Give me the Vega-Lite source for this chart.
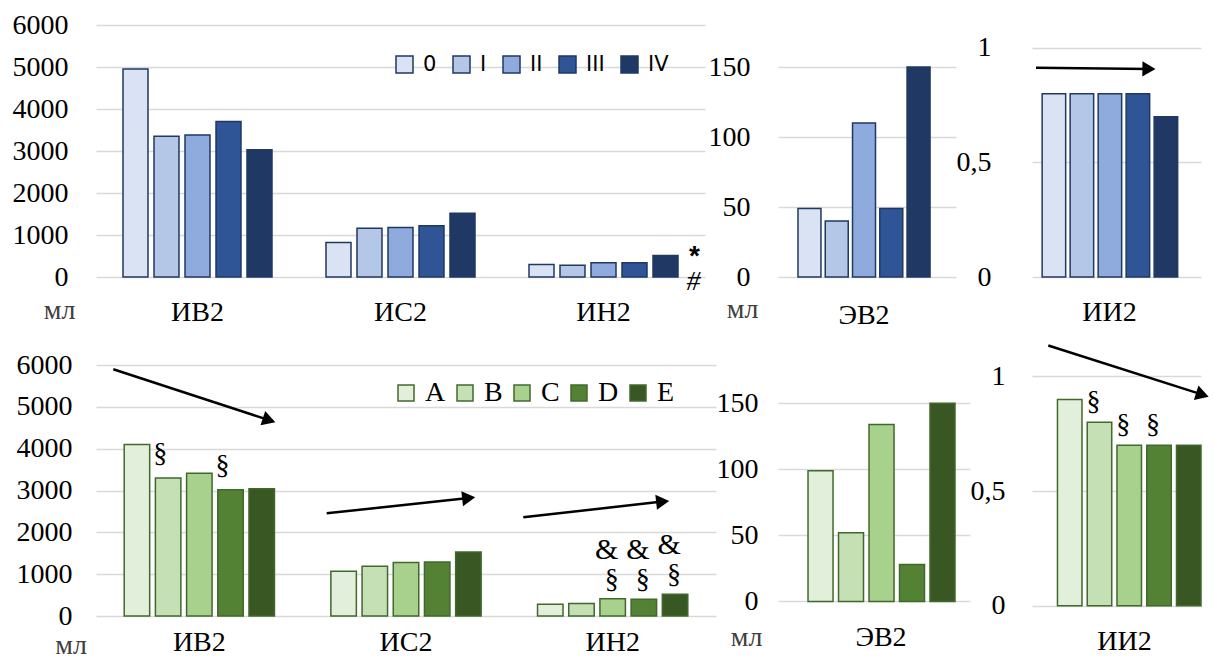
{
  "$schema": "https://vega.github.io/schema/vega-lite/v6.json",
  "background": "white",
  "padding": {"left": 12, "top": 11, "right": 0, "bottom": 0},
  "datasets": {
    "blue": [
      {"group": "ИВ2", "series": "0", "value": 4950},
      {"group": "ИВ2", "series": "I", "value": 3350},
      {"group": "ИВ2", "series": "II", "value": 3380},
      {"group": "ИВ2", "series": "III", "value": 3700},
      {"group": "ИВ2", "series": "IV", "value": 3030},
      {"group": "ИС2", "series": "0", "value": 820},
      {"group": "ИС2", "series": "I", "value": 1160},
      {"group": "ИС2", "series": "II", "value": 1180},
      {"group": "ИС2", "series": "III", "value": 1220},
      {"group": "ИС2", "series": "IV", "value": 1520},
      {"group": "ИН2", "series": "0", "value": 300},
      {"group": "ИН2", "series": "I", "value": 280},
      {"group": "ИН2", "series": "II", "value": 340},
      {"group": "ИН2", "series": "III", "value": 340},
      {"group": "ИН2", "series": "IV", "value": 510},
      {"group": "ЭВ2", "series": "0", "value": 49},
      {"group": "ЭВ2", "series": "I", "value": 40},
      {"group": "ЭВ2", "series": "II", "value": 110},
      {"group": "ЭВ2", "series": "III", "value": 49},
      {"group": "ЭВ2", "series": "IV", "value": 150},
      {"group": "ИИ2", "series": "0", "value": 0.8},
      {"group": "ИИ2", "series": "I", "value": 0.8},
      {"group": "ИИ2", "series": "II", "value": 0.8},
      {"group": "ИИ2", "series": "III", "value": 0.8},
      {"group": "ИИ2", "series": "IV", "value": 0.7}
    ],
    "green": [
      {"group": "ИВ2", "series": "A", "value": 4100},
      {"group": "ИВ2", "series": "B", "value": 3300},
      {"group": "ИВ2", "series": "C", "value": 3410},
      {"group": "ИВ2", "series": "D", "value": 3020},
      {"group": "ИВ2", "series": "E", "value": 3040},
      {"group": "ИС2", "series": "A", "value": 1070},
      {"group": "ИС2", "series": "B", "value": 1190},
      {"group": "ИС2", "series": "C", "value": 1280},
      {"group": "ИС2", "series": "D", "value": 1290},
      {"group": "ИС2", "series": "E", "value": 1530},
      {"group": "ИН2", "series": "A", "value": 280},
      {"group": "ИН2", "series": "B", "value": 300},
      {"group": "ИН2", "series": "C", "value": 410},
      {"group": "ИН2", "series": "D", "value": 400},
      {"group": "ИН2", "series": "E", "value": 520},
      {"group": "ЭВ2", "series": "A", "value": 99},
      {"group": "ЭВ2", "series": "B", "value": 52},
      {"group": "ЭВ2", "series": "C", "value": 134},
      {"group": "ЭВ2", "series": "D", "value": 28},
      {"group": "ЭВ2", "series": "E", "value": 150},
      {"group": "ИИ2", "series": "A", "value": 0.9},
      {"group": "ИИ2", "series": "B", "value": 0.8},
      {"group": "ИИ2", "series": "C", "value": 0.7},
      {"group": "ИИ2", "series": "D", "value": 0.7},
      {"group": "ИИ2", "series": "E", "value": 0.7}
    ],
    "notes": [
      {"row": "upper", "group": "ИН2", "series": "IV", "value": 510, "sym": "*"},
      {"row": "upper", "group": "ИН2", "series": "IV", "value": 510, "sym": "#"},
      {"row": "lower", "group": "ИВ2", "series": "B", "value": 3300, "sym": "§"},
      {"row": "lower", "group": "ИВ2", "series": "D", "value": 3020, "sym": "§"},
      {"row": "lower", "group": "ИН2", "series": "C", "value": 410, "sym": "§"},
      {"row": "lower", "group": "ИН2", "series": "D", "value": 400, "sym": "§"},
      {"row": "lower", "group": "ИН2", "series": "E", "value": 520, "sym": "§"},
      {"row": "lower", "group": "ИН2", "series": "C", "value": 410, "sym": "&"},
      {"row": "lower", "group": "ИН2", "series": "D", "value": 400, "sym": "&"},
      {"row": "lower", "group": "ИН2", "series": "E", "value": 520, "sym": "&"},
      {"row": "lower", "group": "ИИ2", "series": "B", "value": 0.8, "sym": "§"},
      {"row": "lower", "group": "ИИ2", "series": "C", "value": 0.7, "sym": "§"},
      {"row": "lower", "group": "ИИ2", "series": "D", "value": 0.7, "sym": "§"}
    ],
    "arrows": [
      {"panel": "upper-ИИ2", "id": "a5", "pos": 0.0237, "value": 0.9136, "pos2": 0.692, "value2": 0.908},
      {"panel": "lower-main", "id": "a1", "pos": 0.0837, "value": 5898, "pos2": 0.8376, "value2": 4681},
      {"panel": "lower-main", "id": "a2", "pos": 1.1163, "value": 2455, "pos2": 1.8034, "value2": 2819},
      {"panel": "lower-main", "id": "a3", "pos": 2.0676, "value": 2360, "pos2": 2.742, "value2": 2735},
      {"panel": "lower-ИИ2", "id": "a4", "pos": 0.0964, "value": 1.1353, "pos2": 1.0083, "value2": 0.9206}
    ]
  },
  "concat": [
    {
      "width": 609,
      "height": 252,
      "layer": [
        {
          "data": {"name": "blue"},
          "transform": [{"filter": {"field": "group", "oneOf": ["ИВ2", "ИС2", "ИН2"]}}],
          "mark": {"type": "bar", "stroke": "#203864", "strokeWidth": 1.5},
          "encoding": {
            "x": {"field": "group", "type": "nominal", "scale": {"domain": ["ИВ2", "ИС2", "ИН2"], "paddingInner": 0, "paddingOuter": 0}, "axis": {"title": null, "labelAngle": 0, "labelPadding": 21}},
            "xOffset": {"field": "series", "type": "nominal", "scale": {"domain": ["0", "I", "II", "III", "IV"], "paddingInner": 0.194, "paddingOuter": 0.871}},
            "y": {"field": "value", "type": "quantitative", "stack": null, "scale": {"domain": [0, 6000], "nice": false, "zero": false},
              "axis": {"title": "мл", "titleAngle": 0, "titleX": -37, "titleY": 285, "titleAlign": "center", "titleBaseline": "middle", "values": [0, 1000, 2000, 3000, 4000, 5000, 6000], "format": "d", "labelPadding": 28}},
            "color": {"field": "series", "type": "nominal",
              "scale": {"domain": ["0", "I", "II", "III", "IV"], "range": ["#dae3f3", "#b4c7e7", "#8faadc", "#2f5597", "#203864"]},
              "legend": {"orient": "none", "legendX": 298, "legendY": 29, "direction": "horizontal", "columns": 5, "title": null, "symbolType": "square", "symbolSize": 289, "symbolStrokeColor": "#203864", "symbolStrokeWidth": 1.5, "symbolOpacity": 1, "labelFont": "DejaVu Sans", "labelFontSize": 21, "labelColor": "#000000", "labelOffset": 8, "columnPadding": 13, "padding": 0, "labelLimit": 0}}
          }
        },
        {
          "data": {"name": "notes"},
          "transform": [{"filter": {"and": [{"field": "row", "equal": "upper"}, {"field": "sym", "equal": "*"}]}}],
          "mark": {"type": "text", "font": "Liberation Sans", "fontWeight": "bold", "fontSize": 28, "dx": 29, "dy": 1, "baseline": "middle", "align": "center", "color": "#000000"},
          "encoding": {
            "x": {"field": "group", "type": "nominal", "scale": {"domain": ["ИВ2", "ИС2", "ИН2"]}},
            "xOffset": {"field": "series", "type": "nominal", "scale": {"domain": ["0", "I", "II", "III", "IV"]}},
            "y": {"field": "value", "type": "quantitative", "scale": {"domain": [0, 6000], "nice": false, "zero": false}},
            "text": {"field": "sym"}
          }
        },
        {
          "data": {"name": "notes"},
          "transform": [{"filter": {"and": [{"field": "row", "equal": "upper"}, {"field": "sym", "equal": "#"}]}}],
          "mark": {"type": "text", "font": "Liberation Serif", "fontStyle": "italic", "fontSize": 28, "dx": 28, "dy": 26, "baseline": "middle", "align": "center", "color": "#000000"},
          "encoding": {
            "x": {"field": "group", "type": "nominal", "scale": {"domain": ["ИВ2", "ИС2", "ИН2"]}},
            "xOffset": {"field": "series", "type": "nominal", "scale": {"domain": ["0", "I", "II", "III", "IV"]}},
            "y": {"field": "value", "type": "quantitative", "scale": {"domain": [0, 6000], "nice": false, "zero": false}},
            "text": {"field": "sym"}
          }
        }
      ]
    },
    {
      "width": 178,
      "height": 252,
      "data": {"name": "blue"},
      "transform": [{"filter": {"field": "group", "equal": "ЭВ2"}}],
      "mark": {"type": "bar", "stroke": "#203864", "strokeWidth": 1.5},
      "encoding": {
        "x": {"field": "group", "type": "nominal", "scale": {"domain": ["ЭВ2"], "paddingInner": 0, "paddingOuter": 0}, "axis": {"title": null, "labelAngle": 0, "labelPadding": 24, "labelOffset": -3}},
        "xOffset": {"field": "series", "type": "nominal", "scale": {"domain": ["0", "I", "II", "III", "IV"], "paddingInner": 0.157, "paddingOuter": 0.8425, "align": 0.435}},
        "y": {"field": "value", "type": "quantitative", "stack": null, "scale": {"domain": [0, 180], "nice": false, "zero": false},
          "axis": {"title": "мл", "titleAngle": 0, "titleX": -36, "titleY": 284, "titleAlign": "center", "titleBaseline": "middle", "values": [0, 50, 100, 150], "format": "d", "labelPadding": 28}},
        "color": {"field": "series", "type": "nominal",
          "scale": {"domain": ["0", "I", "II", "III", "IV"], "range": ["#dae3f3", "#b4c7e7", "#8faadc", "#2f5597", "#203864"]}, "legend": null}
      }
    },
    {
      "width": 169,
      "height": 252,
      "resolve": {"scale": {"x": "independent"}},
      "layer": [
        {
          "data": {"name": "blue"},
          "transform": [{"filter": {"field": "group", "equal": "ИИ2"}}],
          "mark": {"type": "bar", "stroke": "#203864", "strokeWidth": 1.5},
          "encoding": {
            "x": {"field": "group", "type": "nominal", "scale": {"domain": ["ИИ2"], "paddingInner": 0, "paddingOuter": 0}, "axis": {"title": null, "labelAngle": 0, "labelPadding": 21, "labelOffset": -7}},
            "xOffset": {"field": "series", "type": "nominal", "scale": {"domain": ["0", "I", "II", "III", "IV"], "paddingInner": 0.16, "paddingOuter": 0.598, "align": 0.303}},
            "y": {"field": "value", "type": "quantitative", "stack": null, "scale": {"domain": [0, 1.1], "nice": false, "zero": false},
              "axis": {"title": null, "values": [0, 0.5, 1], "format": "~g", "labelExpr": "replace(datum.label, '.', ',')", "labelPadding": 41}},
            "color": {"field": "series", "type": "nominal",
              "scale": {"domain": ["0", "I", "II", "III", "IV"], "range": ["#dae3f3", "#b4c7e7", "#8faadc", "#2f5597", "#203864"]}, "legend": null}
          }
        },
        {
          "data": {"name": "arrows"},
          "transform": [{"filter": {"field": "panel", "equal": "upper-ИИ2"}}],
          "mark": {"type": "rule", "strokeWidth": 2.5, "color": "#000000"},
          "encoding": {
            "x": {"field": "pos", "type": "quantitative", "scale": {"domain": [0, 1], "nice": false, "zero": false}, "axis": null},
            "x2": {"field": "pos2"},
            "y": {"field": "value", "type": "quantitative", "scale": {"domain": [0, 1.1], "nice": false, "zero": false},
              "axis": {"title": null, "values": [0, 0.5, 1], "format": "~g", "labelExpr": "replace(datum.label, '.', ',')", "labelPadding": 41}},
            "y2": {"field": "value2"}
          }
        },
        {
          "data": {"name": "arrows"},
          "transform": [{"filter": {"field": "id", "equal": "a5"}}],
          "mark": {"type": "point", "shape": "triangle-right", "filled": true, "color": "#000000", "opacity": 1, "size": 230, "angle": 0.6},
          "encoding": {
            "x": {"field": "pos2", "type": "quantitative", "scale": {"domain": [0, 1], "nice": false, "zero": false}, "axis": null},
            "y": {"field": "value2", "type": "quantitative", "scale": {"domain": [0, 1.1], "nice": false, "zero": false},
              "axis": {"title": null, "values": [0, 0.5, 1], "format": "~g", "labelExpr": "replace(datum.label, '.', ',')", "labelPadding": 41}}
          }
        }
      ]
    },
    {
      "width": 620,
      "height": 251,
      "resolve": {"scale": {"x": "independent"}},
      "layer": [
        {
          "layer": [
            {
              "data": {"name": "green"},
              "transform": [{"filter": {"field": "group", "oneOf": ["ИВ2", "ИС2", "ИН2"]}}],
              "mark": {"type": "bar", "stroke": "#41692c", "strokeWidth": 1.5},
              "encoding": {
                "x": {"field": "group", "type": "nominal", "scale": {"domain": ["ИВ2", "ИС2", "ИН2"], "paddingInner": 0, "paddingOuter": 0}, "axis": {"title": null, "labelAngle": 0, "labelPadding": 12}},
                "xOffset": {"field": "series", "type": "nominal", "scale": {"domain": ["A", "B", "C", "D", "E"], "paddingInner": 0.183, "paddingOuter": 0.904}},
                "y": {"field": "value", "type": "quantitative", "stack": null, "scale": {"domain": [0, 6000], "nice": false, "zero": false},
                  "axis": {"title": "мл", "titleAngle": 0, "titleX": -25.5, "titleY": 280, "titleAlign": "center", "titleBaseline": "middle", "values": [0, 1000, 2000, 3000, 4000, 5000, 6000], "format": "d", "labelPadding": 24}},
                "color": {"field": "series", "type": "nominal",
                  "scale": {"domain": ["A", "B", "C", "D", "E"], "range": ["#e2efda", "#c5e0b4", "#a9d18e", "#548235", "#385723"]},
                  "legend": {"orient": "none", "legendX": 296, "legendY": 14, "direction": "horizontal", "columns": 5, "title": null, "symbolType": "square", "symbolSize": 256, "symbolStrokeColor": "#41692c", "symbolStrokeWidth": 1.5, "symbolOpacity": 1, "labelFont": "Liberation Serif", "labelFontSize": 28, "labelColor": "#000000", "labelOffset": 5, "columnPadding": 5, "padding": 0, "labelLimit": 0}}
              }
            },
            {
              "data": {"name": "notes"},
              "transform": [{"filter": {"and": [{"field": "row", "equal": "lower"}, {"field": "group", "equal": "ИВ2"}, {"field": "sym", "equal": "§"}]}}],
              "mark": {"type": "text", "font": "Liberation Serif", "fontSize": 28, "dx": -8, "dy": -24, "baseline": "middle", "align": "center", "color": "#000000"},
              "encoding": {
                "x": {"field": "group", "type": "nominal", "scale": {"domain": ["ИВ2", "ИС2", "ИН2"]}},
                "xOffset": {"field": "series", "type": "nominal", "scale": {"domain": ["A", "B", "C", "D", "E"]}},
                "y": {"field": "value", "type": "quantitative", "scale": {"domain": [0, 6000], "nice": false, "zero": false}},
                "text": {"field": "sym"}
              }
            },
            {
              "data": {"name": "notes"},
              "transform": [{"filter": {"and": [{"field": "row", "equal": "lower"}, {"field": "group", "equal": "ИН2"}, {"field": "sym", "equal": "§"}]}}],
              "mark": {"type": "text", "font": "Liberation Serif", "fontSize": 28, "dx": -1, "dy": -19, "baseline": "middle", "align": "center", "color": "#000000"},
              "encoding": {
                "x": {"field": "group", "type": "nominal", "scale": {"domain": ["ИВ2", "ИС2", "ИН2"]}},
                "xOffset": {"field": "series", "type": "nominal", "scale": {"domain": ["A", "B", "C", "D", "E"]}},
                "y": {"field": "value", "type": "quantitative", "scale": {"domain": [0, 6000], "nice": false, "zero": false}},
                "text": {"field": "sym"}
              }
            },
            {
              "data": {"name": "notes"},
              "transform": [{"filter": {"and": [{"field": "row", "equal": "lower"}, {"field": "sym", "equal": "&"}]}}],
              "mark": {"type": "text", "font": "Liberation Serif", "fontSize": 30, "dx": -6, "dy": -49, "baseline": "middle", "align": "center", "color": "#000000"},
              "encoding": {
                "x": {"field": "group", "type": "nominal", "scale": {"domain": ["ИВ2", "ИС2", "ИН2"]}},
                "xOffset": {"field": "series", "type": "nominal", "scale": {"domain": ["A", "B", "C", "D", "E"]}},
                "y": {"field": "value", "type": "quantitative", "scale": {"domain": [0, 6000], "nice": false, "zero": false}},
                "text": {"field": "sym"}
              }
            }
          ]
        },
        {
          "data": {"name": "arrows"},
          "transform": [{"filter": {"field": "panel", "equal": "lower-main"}}],
          "mark": {"type": "rule", "strokeWidth": 2.5, "color": "#000000"},
          "encoding": {
            "x": {"field": "pos", "type": "quantitative", "scale": {"domain": [0, 3], "nice": false, "zero": false}, "axis": null},
            "x2": {"field": "pos2"},
            "y": {"field": "value", "type": "quantitative", "scale": {"domain": [0, 6000], "nice": false, "zero": false},
              "axis": {"title": "мл", "titleAngle": 0, "titleX": -25.5, "titleY": 280, "titleAlign": "center", "titleBaseline": "middle", "values": [0, 1000, 2000, 3000, 4000, 5000, 6000], "format": "d", "labelPadding": 24}},
            "y2": {"field": "value2"}
          }
        },
        {
          "data": {"name": "arrows"},
          "transform": [{"filter": {"field": "id", "equal": "a1"}}],
          "mark": {"type": "point", "shape": "triangle-right", "filled": true, "color": "#000000", "opacity": 1, "size": 230, "angle": 18.1},
          "encoding": {
            "x": {"field": "pos2", "type": "quantitative", "scale": {"domain": [0, 3], "nice": false, "zero": false}, "axis": null},
            "y": {"field": "value2", "type": "quantitative", "scale": {"domain": [0, 6000], "nice": false, "zero": false},
              "axis": {"title": "мл", "titleAngle": 0, "titleX": -25.5, "titleY": 280, "titleAlign": "center", "titleBaseline": "middle", "values": [0, 1000, 2000, 3000, 4000, 5000, 6000], "format": "d", "labelPadding": 24}}
          }
        },
        {
          "data": {"name": "arrows"},
          "transform": [{"filter": {"field": "id", "oneOf": ["a2", "a3"]}}],
          "mark": {"type": "point", "shape": "triangle-right", "filled": true, "color": "#000000", "opacity": 1, "size": 230, "angle": -6.2},
          "encoding": {
            "x": {"field": "pos2", "type": "quantitative", "scale": {"domain": [0, 3], "nice": false, "zero": false}, "axis": null},
            "y": {"field": "value2", "type": "quantitative", "scale": {"domain": [0, 6000], "nice": false, "zero": false},
              "axis": {"title": "мл", "titleAngle": 0, "titleX": -25.5, "titleY": 280, "titleAlign": "center", "titleBaseline": "middle", "values": [0, 1000, 2000, 3000, 4000, 5000, 6000], "format": "d", "labelPadding": 24}}
          }
        }
      ]
    },
    {
      "width": 192,
      "height": 251,
      "data": {"name": "green"},
      "transform": [{"filter": {"field": "group", "equal": "ЭВ2"}}],
      "mark": {"type": "bar", "stroke": "#41692c", "strokeWidth": 1.5},
      "encoding": {
        "x": {"field": "group", "type": "nominal", "scale": {"domain": ["ЭВ2"], "paddingInner": 0, "paddingOuter": 0}, "axis": {"title": null, "labelAngle": 0, "labelPadding": 7, "labelOffset": 7}},
        "xOffset": {"field": "series", "type": "nominal", "scale": {"domain": ["A", "B", "C", "D", "E"], "paddingInner": 0.18, "paddingOuter": 0.738, "align": 0.667}},
        "y": {"field": "value", "type": "quantitative", "stack": null, "scale": {"domain": [-11, 179], "nice": false, "zero": false},
          "axis": {"title": "мл", "titleAngle": 0, "titleX": -32, "titleY": 272.5, "titleAlign": "center", "titleBaseline": "middle", "values": [0, 50, 100, 150], "format": "d", "labelPadding": 20}},
        "color": {"field": "series", "type": "nominal",
          "scale": {"domain": ["A", "B", "C", "D", "E"], "range": ["#e2efda", "#c5e0b4", "#a9d18e", "#548235", "#385723"]}, "legend": null}
      }
    },
    {
      "width": 169,
      "height": 251,
      "resolve": {"scale": {"x": "independent"}},
      "layer": [
        {
          "layer": [
            {
              "data": {"name": "green"},
              "transform": [{"filter": {"field": "group", "equal": "ИИ2"}}],
              "mark": {"type": "bar", "stroke": "#41692c", "strokeWidth": 1.5},
              "encoding": {
                "x": {"field": "group", "type": "nominal", "scale": {"domain": ["ИИ2"], "paddingInner": 0, "paddingOuter": 0}, "axis": {"title": null, "labelAngle": 0, "labelPadding": 11, "labelOffset": 8}},
                "xOffset": {"field": "series", "type": "nominal", "scale": {"domain": ["A", "B", "C", "D", "E"], "paddingInner": 0.176, "paddingOuter": 0.428, "align": 1}},
                "y": {"field": "value", "type": "quantitative", "stack": null, "scale": {"domain": [-0.045, 1.05], "nice": false, "zero": false},
                  "axis": {"title": null, "values": [0, 0.5, 1], "format": "~g", "labelExpr": "replace(datum.label, '.', ',')", "labelPadding": 27}},
                "color": {"field": "series", "type": "nominal",
                  "scale": {"domain": ["A", "B", "C", "D", "E"], "range": ["#e2efda", "#c5e0b4", "#a9d18e", "#548235", "#385723"]}, "legend": null}
              }
            },
            {
              "data": {"name": "notes"},
              "transform": [{"filter": {"and": [{"field": "row", "equal": "lower"}, {"field": "group", "equal": "ИИ2"}]}}],
              "mark": {"type": "text", "font": "Liberation Serif", "fontSize": 28, "dx": -6, "dy": -20, "baseline": "middle", "align": "center", "color": "#000000"},
              "encoding": {
                "x": {"field": "group", "type": "nominal", "scale": {"domain": ["ИИ2"]}},
                "xOffset": {"field": "series", "type": "nominal", "scale": {"domain": ["A", "B", "C", "D", "E"]}},
                "y": {"field": "value", "type": "quantitative", "scale": {"domain": [-0.045, 1.05], "nice": false, "zero": false}},
                "text": {"field": "sym"}
              }
            }
          ]
        },
        {
          "data": {"name": "arrows"},
          "transform": [{"filter": {"field": "panel", "equal": "lower-ИИ2"}}],
          "mark": {"type": "rule", "strokeWidth": 2.5, "color": "#000000"},
          "encoding": {
            "x": {"field": "pos", "type": "quantitative", "scale": {"domain": [0, 1], "nice": false, "zero": false}, "axis": null},
            "x2": {"field": "pos2"},
            "y": {"field": "value", "type": "quantitative", "scale": {"domain": [-0.045, 1.05], "nice": false, "zero": false},
              "axis": {"title": null, "values": [0, 0.5, 1], "format": "~g", "labelExpr": "replace(datum.label, '.', ',')", "labelPadding": 27}},
            "y2": {"field": "value2"}
          }
        },
        {
          "data": {"name": "arrows"},
          "transform": [{"filter": {"field": "id", "equal": "a4"}}],
          "mark": {"type": "point", "shape": "triangle-right", "filled": true, "color": "#000000", "opacity": 1, "size": 230, "angle": 17.7},
          "encoding": {
            "x": {"field": "pos2", "type": "quantitative", "scale": {"domain": [0, 1], "nice": false, "zero": false}, "axis": null},
            "y": {"field": "value2", "type": "quantitative", "scale": {"domain": [-0.045, 1.05], "nice": false, "zero": false},
              "axis": {"title": null, "values": [0, 0.5, 1], "format": "~g", "labelExpr": "replace(datum.label, '.', ',')", "labelPadding": 27}}
          }
        }
      ]
    }
  ],
  "columns": 3,
  "align": "none",
  "bounds": "flush",
  "spacing": {"row": 88, "column": 62},
  "resolve": {"scale": {"color": "independent", "x": "independent", "y": "independent", "xOffset": "independent"}},
  "config": {
    "view": {"stroke": null},
    "font": "Liberation Serif",
    "axis": {
      "labelFont": "Liberation Serif",
      "labelFontSize": 28,
      "labelColor": "#000000",
      "labelFlush": false,
      "labelOverlap": false,
      "domain": false,
      "ticks": false,
      "gridColor": "#d9d9d9",
      "gridWidth": 1.5,
      "titleFont": "Liberation Serif",
      "titleFontSize": 28,
      "titleFontWeight": "normal",
      "titleColor": "#404040"
    },
    "axisX": {"grid": false},
    "axisY": {"grid": true}
  }
}
